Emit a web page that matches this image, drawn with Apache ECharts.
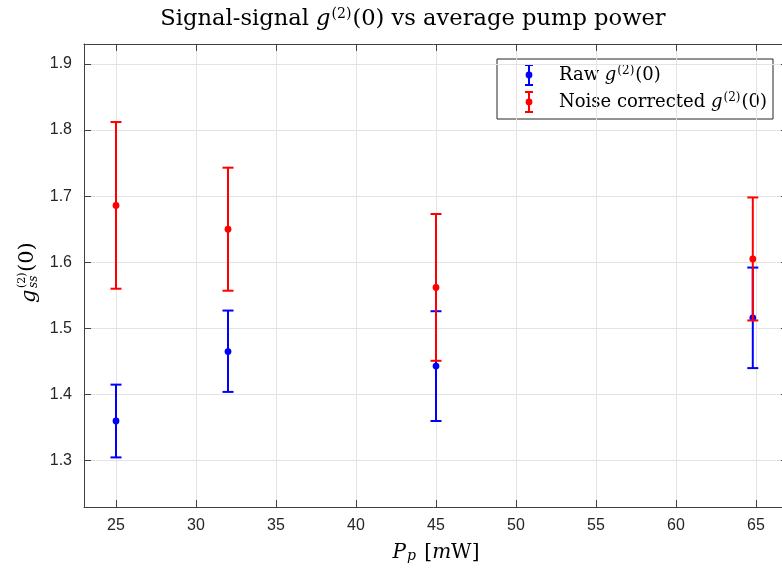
<!DOCTYPE html>
<html>
<head>
<meta charset="utf-8">
<script src="https://cdn.jsdelivr.net/npm/echarts@6/dist/echarts.min.js"></script>
<style>
html, body { margin: 0; padding: 0; background: #fff; }
#main { width: 782px; height: 569px; }
</style>
</head>
<body>
<div id="main"></div>
<script>
// pump power (mW)
var power = [25, 32, 45, 64.8];
// raw g2(0) with error bar ends
var rawMid = [1.360, 1.465, 1.443, 1.516];
var rawLow = [1.305, 1.404, 1.360, 1.440];
var rawHigh = [1.415, 1.527, 1.526, 1.592];
// noise corrected g2(0)
var corrMid = [1.686, 1.650, 1.562, 1.605];
var corrLow = [1.560, 1.557, 1.451, 1.512];
var corrHigh = [1.812, 1.743, 1.673, 1.698];
// axis limits
var xLimits = [23, 67];
var yLimits = [1.23, 1.93];

var serif = '"DejaVu Serif", "Liberation Serif", serif';
var sans = '"Liberation Sans", Arial, sans-serif';
var axisColor = '#404040';
var textColor = '#262626';

function barData(mid, low, high) {
    return power.map(function (p, i) { return [p, low[i], high[i], mid[i]]; });
}

// draws one error bar (vertical line, two caps, dot)
function errorBar(color) {
    return function (params, api) {
        var x = api.value(0);
        var lo = api.coord([x, api.value(1)]);
        var hi = api.coord([x, api.value(2)]);
        var mid = api.coord([x, api.value(3)]);
        var w = 5.5;
        var st = { stroke: color, lineWidth: 2 };
        return {
            type: 'group',
            children: [
                { type: 'line', shape: { x1: lo[0], y1: lo[1], x2: hi[0], y2: hi[1] }, style: st },
                { type: 'line', shape: { x1: lo[0] - w, y1: lo[1], x2: lo[0] + w, y2: lo[1] }, style: st },
                { type: 'line', shape: { x1: hi[0] - w, y1: hi[1], x2: hi[0] + w, y2: hi[1] }, style: st },
                { type: 'circle', shape: { cx: mid[0], cy: mid[1], r: 3.4 }, style: { fill: color } }
            ]
        };
    };
}

function mainAxis(extra, margin) {
    var a = {
        type: 'value',
        axisLine: { show: true, lineStyle: { color: axisColor, width: 1 } },
        axisTick: { show: true, inside: true, length: 7, lineStyle: { color: axisColor } },
        axisLabel: { show: true, margin: margin, color: textColor, fontFamily: sans, fontSize: 16, showMinLabel: false, showMaxLabel: false },
        splitLine: { show: true, lineStyle: { color: '#e3e3e3', width: 1 } }
    };
    return Object.assign(a, extra);
}

function boxAxis(extra) {
    var a = {
        type: 'value',
        axisLine: { show: true, lineStyle: { color: axisColor, width: 1 } },
        axisTick: { show: true, inside: true, length: 7, lineStyle: { color: axisColor } },
        axisLabel: { show: false },
        splitLine: { show: false }
    };
    return Object.assign(a, extra);
}

var chart = echarts.init(document.getElementById('main'), null, { renderer: 'canvas' });

var legendRich = {
    t: { fontFamily: serif, fontSize: 18, color: '#000' },
    it: { fontFamily: serif, fontSize: 18, fontStyle: 'italic', color: '#000' },
    sup: { fontFamily: serif, fontSize: 12, color: '#000', verticalAlign: 'top', padding: [0, 1, 8, 1] }
};

function legendRow(y, color, text) {
    var st = { stroke: color, lineWidth: 2 };
    return [
        { type: 'line', shape: { x1: 529, y1: y - 10, x2: 529, y2: y + 10 }, style: st },
        { type: 'line', shape: { x1: 525, y1: y - 10, x2: 533, y2: y - 10 }, style: st },
        { type: 'line', shape: { x1: 525, y1: y + 10, x2: 533, y2: y + 10 }, style: st },
        { type: 'circle', shape: { cx: 529, cy: y, r: 3.4 }, style: { fill: color } },
        { type: 'text', x: 559, y: y, style: { text: text, rich: legendRich, verticalAlign: 'middle', align: 'left' } }
    ];
}

// rotated y label g_ss^(2)(0), laid out along the local x axis (screen up)
var yLabelParts = [
    { type: 'text', x: 0, y: 0, style: { text: 'g', fontFamily: serif, fontSize: 21, fontStyle: 'italic', fill: '#000', verticalAlign: 'middle' } },
    { type: 'text', x: 15, y: -8, style: { text: '(2)', fontFamily: serif, fontSize: 11, fill: '#000', verticalAlign: 'middle' } },
    { type: 'text', x: 15, y: 4, style: { text: 'ss', fontFamily: serif, fontSize: 12, fontStyle: 'italic', fill: '#000', verticalAlign: 'middle' } },
    { type: 'text', x: 31, y: -2, style: { text: '(0)', fontFamily: serif, fontSize: 21, fill: '#000', verticalAlign: 'middle' } }
];

chart.setOption({
    animation: false,
    backgroundColor: '#fff',
    title: {
        text: '{t|Signal-signal }{it|g}{sup|(2)}{t|(0) vs average pump power}',
        left: 408,
        top: 2,
        textAlign: 'center',
        textStyle: {
            fontWeight: 'normal',
            rich: {
                t: { fontFamily: serif, fontSize: 22.6, fontWeight: 'normal', color: '#000' },
                it: { fontFamily: serif, fontSize: 22.6, fontWeight: 'normal', fontStyle: 'italic', color: '#000' },
                sup: { fontFamily: serif, fontSize: 14, fontWeight: 'normal', color: '#000', verticalAlign: 'top', padding: [0, 1, 10, 1] }
            }
        }
    },
    grid: { left: 84, top: 44, width: 704, height: 463, containLabel: false, outerBoundsMode: 'none' },
    xAxis: [
        mainAxis({
            position: 'bottom', min: xLimits[0], max: xLimits[1], splitNumber: 9,
            name: '{it|P}{sub|p}{t| [}{it|m}{t|W]}',
            nameLocation: 'middle', nameGap: 36,
            nameTextStyle: {
                rich: {
                    t: { fontFamily: serif, fontSize: 20, color: '#000' },
                    it: { fontFamily: serif, fontSize: 20, fontStyle: 'italic', color: '#000' },
                    sub: { fontFamily: serif, fontSize: 14, fontStyle: 'italic', color: '#000', verticalAlign: 'bottom', padding: [6, 2, 0, 1] }
                }
            }
        }, 11),
        boxAxis({ position: 'top', min: xLimits[0], max: xLimits[1], splitNumber: 9 })
    ],
    yAxis: [
        mainAxis({ position: 'left', min: yLimits[0], max: yLimits[1], splitNumber: 7 }, 12),
        boxAxis({ position: 'right', min: yLimits[0], max: yLimits[1], splitNumber: 7 })
    ],
    series: [
        {
            name: 'Raw',
            type: 'custom',
            xAxisIndex: 0,
            yAxisIndex: 0,
            renderItem: errorBar('#0000ff'),
            encode: { x: 0, y: [1, 2, 3] },
            data: barData(rawMid, rawLow, rawHigh),
            z: 3
        },
        {
            name: 'Noise corrected',
            type: 'custom',
            xAxisIndex: 0,
            yAxisIndex: 0,
            renderItem: errorBar('#ff0000'),
            encode: { x: 0, y: [1, 2, 3] },
            data: barData(corrMid, corrLow, corrHigh),
            z: 4
        }
    ],
    graphic: [
        {
            type: 'group',
            z: 100,
            children: [
                { type: 'rect', shape: { x: 497, y: 59, width: 276, height: 60 }, style: { fill: '#fff', stroke: textColor, lineWidth: 1 } }
            ]
                .concat(legendRow(75, '#0000ff', '{t|Raw }{it|g}{sup|(2)}{t|(0)}'))
                .concat(legendRow(102, '#ff0000', '{t|Noise corrected }{it|g}{sup|(2)}{t|(0)}'))
        },
        {
            type: 'group',
            x: 30,
            y: 303,
            rotation: Math.PI / 2,
            children: yLabelParts
        }
    ]
});
</script>
</body>
</html>
